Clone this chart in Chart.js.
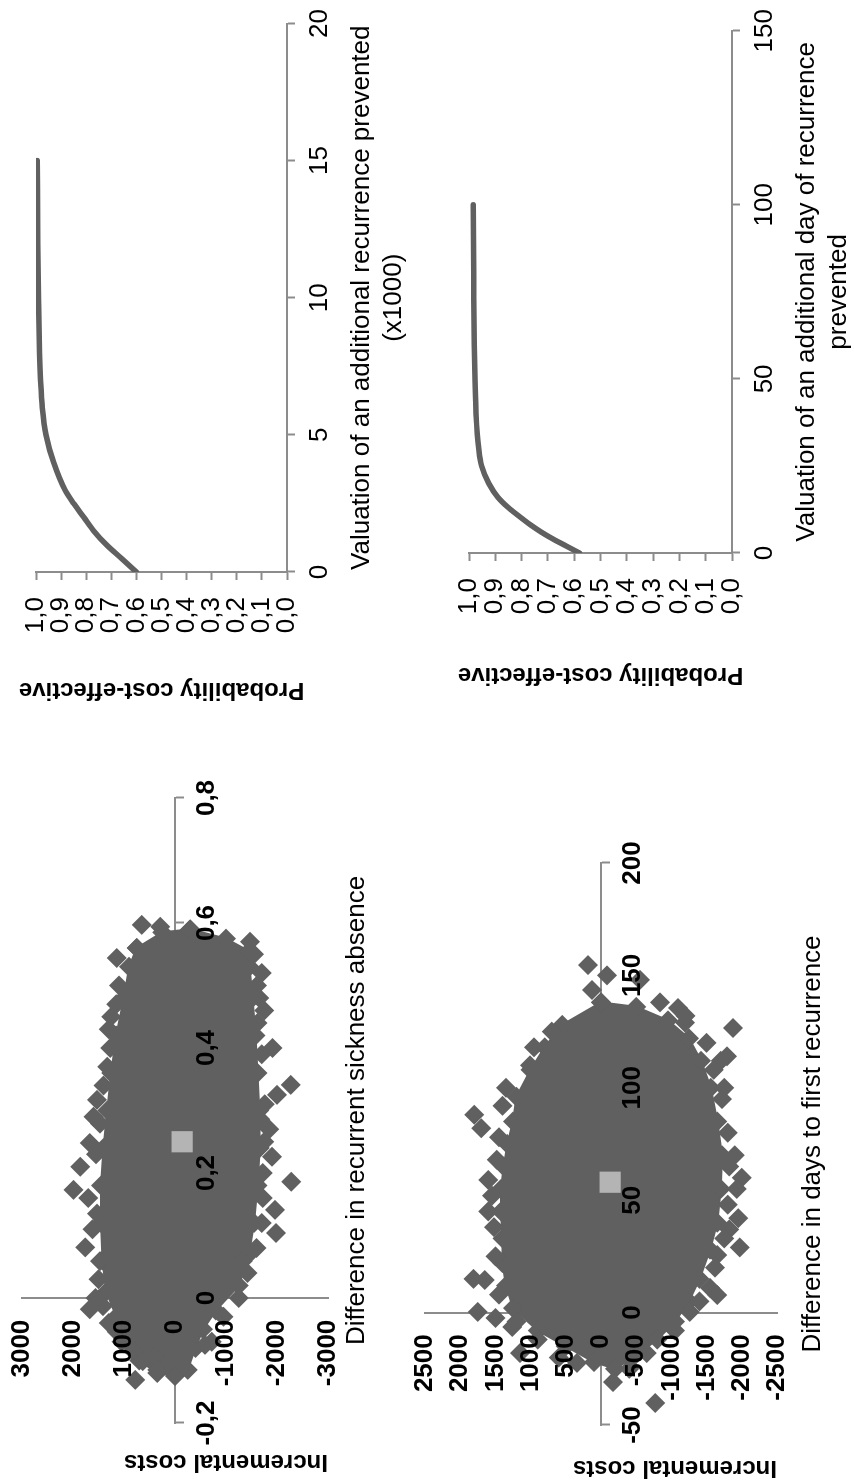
<!DOCTYPE html>
<html>
<head>
<meta charset="utf-8">
<title>Cost-effectiveness planes and acceptability curves</title>
<script src="https://cdn.jsdelivr.net/npm/chart.js@4.4.1/dist/chart.umd.min.js"></script>
<style>
  html, body { margin: 0; padding: 0; background: #fff; }
  body { width: 854px; height: 1482px; overflow: hidden; position: relative; }
  /* the figure is laid out landscape, then turned a quarter turn anticlockwise */
  #figure { position: absolute; left: 0; top: 1482px; width: 1482px; height: 854px;
            transform-origin: 0 0; transform: rotate(-90deg); }
  #figure canvas { position: absolute; }
</style>
</head>
<body>
<div id="figure">
  <canvas id="absencePlane" width="741" height="400" style="left:0;top:0"></canvas>
  <canvas id="recurrenceCeac" width="741" height="427" style="left:741px;top:0"></canvas>
  <canvas id="daysPlane" width="741" height="454" style="left:0;top:400px"></canvas>
  <canvas id="dayCeac" width="741" height="427" style="left:741px;top:427px"></canvas>
</div>
<script>
// ---- CE plane 1: difference in recurrent sickness absence vs incremental costs
const absenceTicksX = [-0.2, 0, 0.2, 0.4, 0.6, 0.8];
const absenceTicksY = [-3000, -2000, -1000, 0, 1000, 2000, 3000];
const absenceMean = [[0.25, -140]];
// outline of the solid part of the bootstrap cloud
const absenceCore = [
  [0.56, 750], [0.53, 900], [0.48, 1000], [0.42, 1150], [0.36, 1250], [0.30, 1330],
  [0.24, 1400], [0.18, 1450], [0.12, 1450], [0.06, 1420], [0.01, 1350], [-0.03, 1150],
  [-0.07, 950], [-0.10, 700], [-0.12, 350], [-0.125, 0], [-0.115, -250], [-0.08, -400],
  [-0.05, -550], [-0.02, -800], [0.02, -1250], [0.07, -1450], [0.12, -1550], [0.18, -1620],
  [0.24, -1660], [0.30, -1650], [0.36, -1620], [0.42, -1580], [0.48, -1520], [0.53, -1460],
  [0.555, -1450], [0.575, -1000], [0.59, -300], [0.585, 250], [0.56, 750]
];
// single replicates poking out of the cloud
const absenceOutliers = [
  [0.597, 650], [0.594, 290], [0.589, -290], [0.57, -1470], [0.544, 1140], [0.50, 1100],
  [0.52, -1700], [0.50, -1610], [0.46, -1750], [0.45, 1250], [0.438, -1530], [0.40, 1270],
  [0.40, -1910], [0.37, 1330], [0.341, -2270], [0.325, -2000], [0.317, 1530], [0.286, -1670],
  [0.279, 1470], [0.27, -1850], [0.248, 1670], [0.226, -1900], [0.21, 1860], [0.186, -2280],
  [0.173, 1990], [0.141, -1960], [0.135, 1530], [0.104, -1980], [0.081, 1760], [0.059, 1470],
  [0.059, -1330], [-0.013, 1410], [-0.018, 1670], [-0.054, 1140], [-0.085, 820], [-0.101, 630],
  [-0.131, 780], [-0.095, 400], [-0.075, -590], [-0.115, 350], [-0.10, -100], [-0.054, -350],
  [0.47, 1150], [0.43, 1300], [0.34, 1400], [0.29, 1600], [0.23, 1550], [0.16, 1700],
  [0.11, 1620], [0.03, 1500], [0.0, 1560], [-0.04, 1300], [-0.07, 1050],
  [0.55, -1550], [0.48, -1650], [0.44, -1620], [0.39, -1700], [0.31, -1760], [0.25, -1750],
  [0.20, -1720], [0.16, -1720], [0.12, -1700], [0.08, -1600], [0.04, -1420], [0.0, -1250],
  [-0.03, -950], [-0.07, -720]
];

// ---- CE plane 2: difference in days to first recurrence vs incremental costs
const daysTicksX = [-50, 0, 50, 100, 150, 200];
const daysTicksY = [-2500, -2000, -1500, -1000, -500, 0, 500, 1000, 1500, 2000, 2500];
const daysMean = [[58, -130]];
const daysCore = [
  [138, 0], [128, 550], [118, 800], [108, 1000], [96, 1200], [85, 1250], [75, 1330],
  [65, 1380], [55, 1420], [45, 1420], [33, 1400], [22, 1400], [12, 1350], [2, 1250],
  [-8, 900], [-15, 500], [-22, 100], [-25, -200], [-20, -450], [-12, -800], [-4, -1050],
  [5, -1250], [15, -1400], [28, -1550], [40, -1650], [55, -1700], [70, -1720], [85, -1650],
  [100, -1560], [112, -1420], [122, -1250], [130, -950], [136, -500], [138, 0]
];
const daysOutliers = [
  [154.6, 185], [150, -85], [143.5, 128], [148, -554], [138, -838], [135.5, -1093],
  [129, -1193], [126.6, -1874], [114, -1790], [110, 1010], [108, 480], [88, 1800],
  [82, 1700], [59, 1600], [52, 1550], [45, 1600], [15, 1810], [14.5, 1650], [0.3, 1750],
  [-2.4, 1500], [-6.4, 1260], [-18, 1150], [-22.4, 340], [-30.9, -170], [-40.2, -770],
  [29, -1970], [25.6, -1650], [11, -1550], [7.8, -1650], [0.3, -1260], [60, -2000],
  [55, -1930], [42, -1950], [37, -1820], [70, -1900], [100, -1750], [112, -1700],
  [125, 700], [118, 950], [100, 1350], [92, 1400], [78, 1450], [68, 1480], [38, 1520],
  [25, 1500], [8, 1450], [-4, 1200], [-12, 900], [-20, 600],
  [132, -1200], [120, -1500], [108, -1600], [95, -1720], [80, -1800], [65, -1820],
  [48, -1800], [33, -1750], [20, -1620], [5, -1400], [-8, -1050], [-18, -650], [-25, -400]
];

// ---- CEAC: valuation of an additional recurrence prevented (x1000)
const recurrenceWtp  = [0, 0.5, 1, 1.5, 2, 2.5, 3, 4, 5, 6, 7, 8, 10, 12, 15];
const recurrenceProb = [0.60, 0.66, 0.72, 0.77, 0.81, 0.85, 0.885, 0.93, 0.96, 0.975, 0.982, 0.986, 0.99, 0.993, 0.995];
const recurrenceTicksX = [0, 5, 10, 15, 20];

// ---- CEAC: valuation of an additional day of recurrence prevented
const dayWtp  = [0, 2, 4, 6, 8, 10, 13, 16, 20, 25, 30, 40, 50, 60, 80, 100];
const dayProb = [0.58, 0.63, 0.68, 0.725, 0.765, 0.80, 0.85, 0.89, 0.925, 0.952, 0.963, 0.973, 0.977, 0.98, 0.982, 0.984];
const dayTicksX = [0, 50, 100, 150];

const probTicks = [0, 0.1, 0.2, 0.3, 0.4, 0.5, 0.6, 0.7, 0.8, 0.9, 1.0];

const FONT = "'Liberation Sans', Arial, sans-serif";
const MARK_GREY = '#606060';
const AXIS_GREY = '#8c8c8c';
const MEAN_GREY = '#b4b4b4';
const Y_TITLE_FONT = { family: FONT, size: 24, weight: 'bold' };
const X_TITLE_FONT = { family: FONT, size: 26 };

Chart.defaults.font.family = FONT;
Chart.defaults.color = '#000';

const pts = pairs => pairs.map(([x, y]) => ({ x, y }));
const comma = v => (v === 0 ? '0' : String(v).replace('.', ','));
const fixedTicks = list => scale => { scale.ticks = list.map(v => ({ value: v })); };

// blank axis that only carries a title (keeps the crossing axes free)
function titleAxis(position, text, font, space, pad) {
  return {
    type: 'linear', position, min: 0, max: 1,
    grid: { display: false }, border: { display: false }, ticks: { display: false },
    afterFit: s => { if (position === 'left') s.width = space; else s.height = space; },
    title: { display: true, text, font, align: position === 'left' ? 'start' : 'center',
             padding: position === 'left' ? { top: pad, bottom: 0 } : { top: 0, bottom: pad } }
  };
}

function planeChart(id, o) {
  const tickFont = { family: FONT, size: 26, weight: 'bold' };
  return new Chart(document.getElementById(id), {
    type: 'scatter',
    data: {
      datasets: [
        { data: pts(o.mean), pointStyle: 'rect', pointRadius: 15, backgroundColor: MEAN_GREY, borderWidth: 0 },
        { data: pts(o.outliers), pointStyle: 'rectRot', pointRadius: 10, backgroundColor: MARK_GREY, borderWidth: 0 },
        { data: pts(o.core), showLine: true, fill: 'shape', tension: 0,
          borderColor: MARK_GREY, borderWidth: 2, backgroundColor: MARK_GREY,
          pointStyle: 'rectRot', pointRadius: 10, pointBorderWidth: 0, pointBackgroundColor: MARK_GREY }
      ]
    },
    options: {
      responsive: false, animation: false, events: [],
      layout: { padding: o.padding },
      plugins: { legend: { display: false }, tooltip: { enabled: false } },
      scales: {
        // axes cross at zero: lines go under the cloud, tick labels over it
        x: {
          type: 'linear', position: { y: 0 },
          min: o.ticksX[0], max: o.ticksX[o.ticksX.length - 1],
          afterBuildTicks: fixedTicks(o.ticksX),
          afterFit: s => { s.height = 0; },
          grid: { drawOnChartArea: false, tickLength: 8, tickColor: AXIS_GREY, tickWidth: 2 },
          border: { color: AXIS_GREY, width: 2 },
          ticks: { font: tickFont, padding: 8, autoSkip: false, maxRotation: 0, minRotation: 0, z: 1, callback: comma }
        },
        y: {
          type: 'linear', position: { x: 0 },
          min: o.ticksY[0], max: o.ticksY[o.ticksY.length - 1],
          afterBuildTicks: fixedTicks(o.ticksY),
          afterFit: s => { s.width = 0; },
          grid: { drawOnChartArea: false, drawTicks: false },
          border: { color: AXIS_GREY, width: 2 },
          // labels of a crossing axis sit flush on the line, so keep a gap after the number
          ticks: { font: tickFont, autoSkip: false, z: 1, callback: v => `${v}   ` }
        },
        xTitle: titleAxis('bottom', o.xTitle, X_TITLE_FONT, o.xSpace, o.xTitlePad),
        yTitle: titleAxis('left', 'Incremental costs', Y_TITLE_FONT, o.ySpace, o.yTitlePad)
      }
    }
  });
}

function ceacChart(id, o) {
  return new Chart(document.getElementById(id), {
    type: 'line',
    data: {
      datasets: [{
        data: o.wtp.map((x, i) => ({ x, y: o.prob[i] })),
        borderColor: MARK_GREY, borderWidth: 5.5, borderCapStyle: 'round',
        pointRadius: 0, fill: false, cubicInterpolationMode: 'monotone'
      }]
    },
    options: {
      responsive: false, animation: false, events: [],
      layout: { padding: o.padding },
      plugins: { legend: { display: false }, tooltip: { enabled: false } },
      scales: {
        x: {
          type: 'linear', min: 0, max: o.ticksX[o.ticksX.length - 1],
          afterBuildTicks: fixedTicks(o.ticksX),
          afterFit: s => { s.height = o.xSpace; },
          grid: { drawOnChartArea: false, tickLength: 8, tickColor: AXIS_GREY, tickWidth: 2 },
          border: { color: AXIS_GREY, width: 2 },
          ticks: { font: { size: 26 }, padding: 9, autoSkip: false, maxRotation: 0, minRotation: 0 },
          title: { display: true, text: o.xTitle, font: X_TITLE_FONT, padding: { top: 0, bottom: o.xTitlePad } }
        },
        y: {
          type: 'linear', min: 0, max: 1,
          afterBuildTicks: fixedTicks(probTicks),
          afterFit: s => { s.width = o.ySpace; },
          grid: { drawOnChartArea: false, tickLength: 8, tickColor: AXIS_GREY, tickWidth: 2 },
          border: { color: AXIS_GREY, width: 2 },
          ticks: { font: { size: 26 }, padding: 17, autoSkip: false, callback: v => v.toFixed(1).replace('.', ',') },
          title: { display: true, text: 'Probability cost-effective', font: Y_TITLE_FONT,
                   padding: { top: o.yTitlePad, bottom: 0 } }
        }
      }
    }
  });
}

planeChart('absencePlane', {
  mean: absenceMean, core: absenceCore, outliers: absenceOutliers,
  ticksX: absenceTicksX, ticksY: absenceTicksY,
  xTitle: 'Difference in recurrent sickness absence',
  padding: { left: 0, top: 22, right: 57, bottom: 0 },
  xSpace: 72, xTitlePad: 28, ySpace: 59, yTitlePad: 6
});

planeChart('daysPlane', {
  mean: daysMean, core: daysCore, outliers: daysOutliers,
  ticksX: daysTicksX, ticksY: daysTicksY,
  xTitle: 'Difference in days to first recurrence',
  padding: { left: 0, top: 25, right: 122, bottom: 0 },
  xSpace: 77, xTitlePad: 26, ySpace: 57, yTitlePad: 0
});

ceacChart('recurrenceCeac', {
  wtp: recurrenceWtp, prob: recurrenceProb, ticksX: recurrenceTicksX,
  xTitle: ['Valuation of an additional recurrence prevented', '(x1000)'],
  padding: { left: 0, top: 36, right: 16, bottom: 0 },
  xSpace: 140, xTitlePad: 18, ySpace: 169, yTitlePad: 37
});

ceacChart('dayCeac', {
  wtp: dayWtp, prob: dayProb, ticksX: dayTicksX,
  xTitle: ['Valuation of an additional day of recurrence', 'prevented'],
  padding: { left: 0, top: 42, right: 28, bottom: 0 },
  xSpace: 122, xTitlePad: 0, ySpace: 188, yTitlePad: 52
});
</script>
</body>
</html>
